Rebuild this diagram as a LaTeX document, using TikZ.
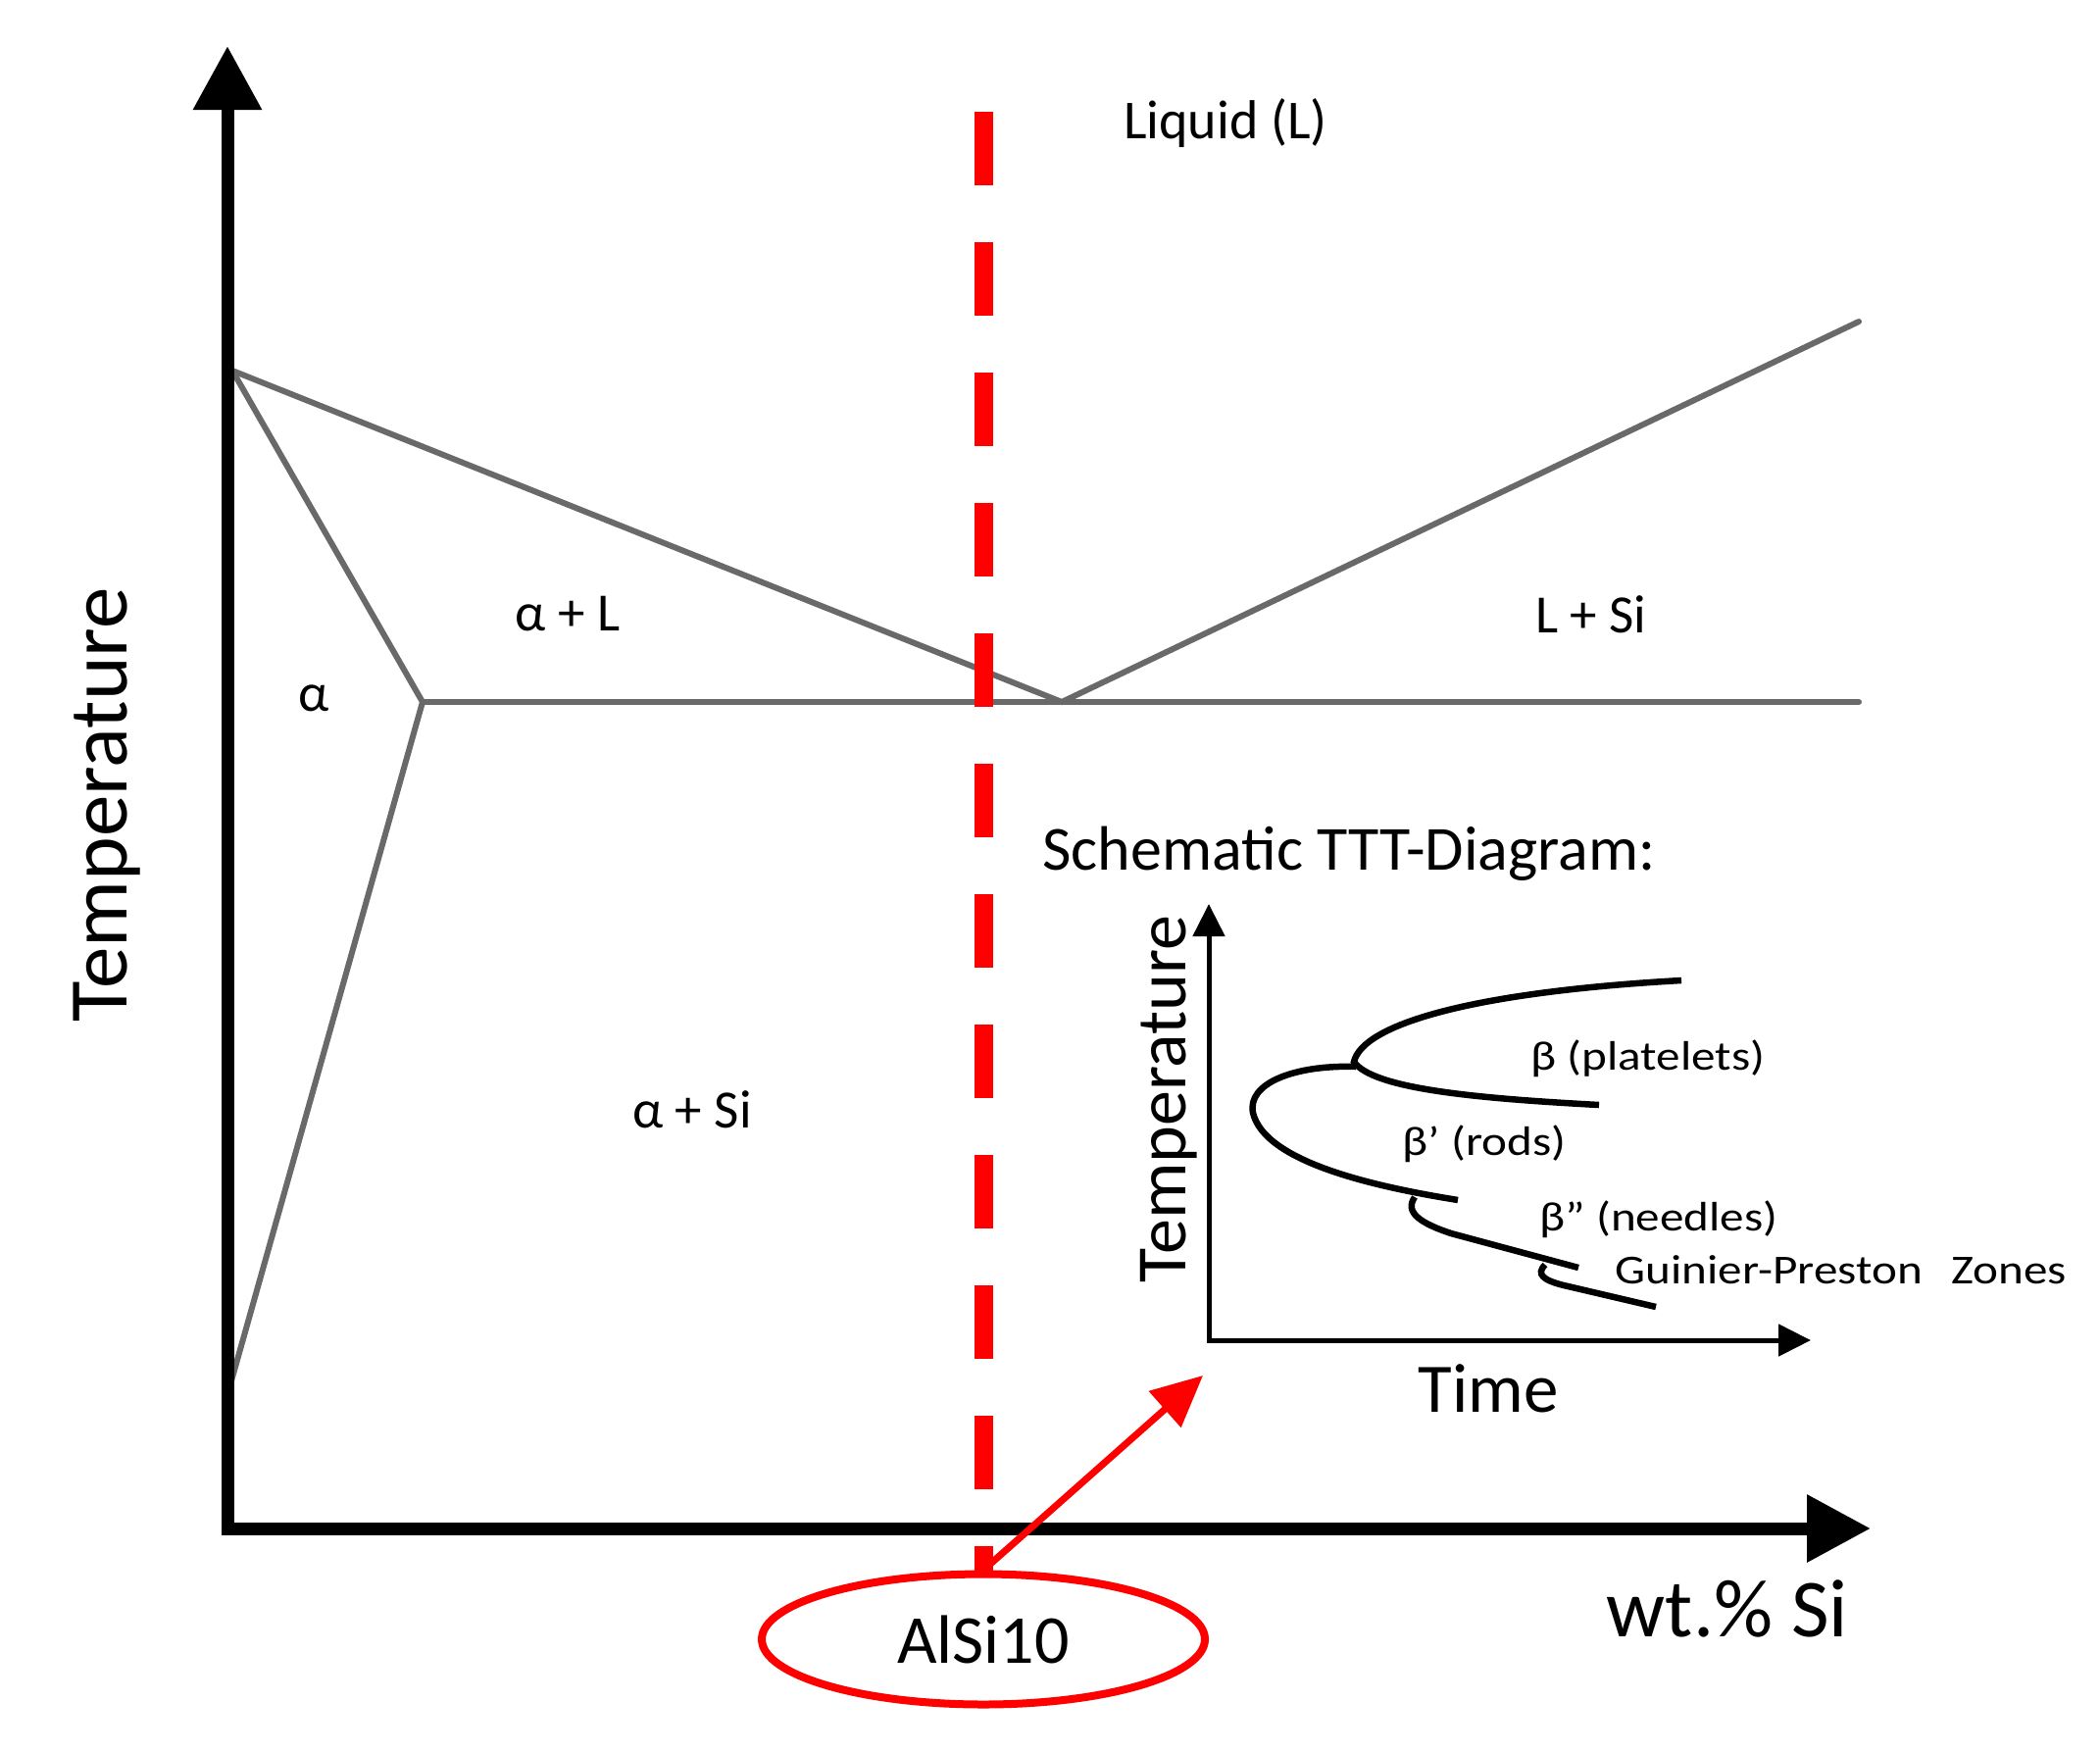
\documentclass[tikz,border=0pt]{standalone}
\usepackage{fontspec}
\setmainfont{Carlito}
\usetikzlibrary{arrows.meta,shapes.geometric}
\definecolor{phasegray}{RGB}{105,105,105}
\definecolor{alred}{RGB}{255,0,0}
\tikzset{
  fs/.style={font=\fontsize{#1}{#1}\selectfont, inner sep=0pt, text=black},
  phaselbl/.style={fs=55, anchor=base},
  tttlbl/.style={fs=42, anchor=base, xscale=1.17},
  mainaxis/.style={line width=13pt, line join=miter, black},
  tttaxis/.style={line width=5pt, line join=miter, black},
  phaseline/.style={line width=6pt, phasegray, line cap=round},
  tttcurve/.style={line width=6.5pt, black},
  reddash/.style={line width=19pt, alred, dash pattern=on 75pt off 58pt},
  redarrow/.style={line width=7pt, alred, -{Triangle[length=52pt,width=48pt]}},
}
\begin{document}
\begin{tikzpicture}[x=1pt,y=-1pt]
\useasboundingbox[fill=white] (0,0) rectangle (2142,1786);

% ---------- phase diagram lines ----------
\coordinate (A) at (237,378);
\coordinate (S) at (431,716);
\coordinate (E) at (1083,716);
\coordinate (R) at (1896,328);
\coordinate (H) at (1896,716);
\coordinate (B) at (235,1412);
\draw[phaseline] (A) -- (E) -- (R);
\draw[phaseline] (A) -- (S) -- (B);
\draw[phaseline] (S) -- (H);

% ---------- main axes ----------
\coordinate (ytip) at (232,47);
\coordinate (origin) at (232,1559);
\coordinate (xtip) at (1908,1559);
\draw[mainaxis, {Triangle[length=65pt,width=67pt]}-{Triangle[length=65pt,width=66pt]}]
  (ytip) -- (origin) -- (xtip);

% ---------- labels ----------
\node[fs=56, anchor=base] (liq) at (1250,141) {Liquid (L)};
\node[phaselbl] (aL) at (579,643) {α + L};
\node[phaselbl] (a) at (320,725) {α};
\node[phaselbl] (LSi) at (1623,645) {L + Si};
\node[phaselbl] (aSi) at (706,1150) {α + Si};
\node[fs=85, anchor=base, rotate=90] (temp) at (129,821) {Temperature};
\node[fs=84, anchor=base] (wt) at (1762,1669) {wt.\% Si};

% ---------- AlSi10 marker ----------
\node[ellipse, draw=alred, line width=8pt, minimum width=452pt, minimum height=133pt,
      inner sep=0pt, fs=70] (alsi) at (1003,1672) {AlSi10};
\coordinate (dashtop) at (1003,114);
\draw[reddash] (dashtop) -- (alsi.north);

% ---------- TTT inset ----------
\node[fs=64, anchor=base] (schem) at (1376,887) {Schematic TTT-Diagram:};
\coordinate (tytip) at (1233,922);
\coordinate (torigin) at (1233,1367);
\coordinate (txtip) at (1847,1367);
\draw[tttaxis, {Triangle[length=33pt,width=32pt]}-{Triangle[length=33pt,width=32pt]}]
  (tytip) -- (torigin) -- (txtip);
\node[fs=72, anchor=base, rotate=90] (ttemp) at (1209,1121) {Temperature};
\node[fs=71, anchor=base] (time) at (1518,1440) {Time};

% C-curves
\draw[tttcurve] (1715,1000) .. controls (1500,1012) and (1390,1045) .. (1381,1083)
                .. controls (1400,1110) and (1500,1120) .. (1631,1127);
\draw[tttcurve] (1383,1088) .. controls (1320,1086) and (1272,1105) .. (1278,1135)
                .. controls (1290,1185) and (1400,1210) .. (1487,1224);
\draw[tttcurve] (1443,1221) .. controls (1432,1237) and (1450,1248) .. (1480,1258)
                -- (1610,1293);
\draw[tttcurve] (1576,1290) .. controls (1566,1300) and (1575,1306) .. (1595,1311)
                -- (1689,1333);

\node[tttlbl] (bplat) at (1681,1091) {β (platelets)};
\node[tttlbl] (brods) at (1514,1178) {β’ (rods)};
\node[tttlbl] (bneed) at (1692,1255) {β” (needles)};
\node[tttlbl] (gp) at (1878,1309) {Guinier-Preston\hspace{0.6em}Zones};

% ---------- red arrow to inset ----------
\coordinate (arrowtip) at (1227,1403);
\draw[redarrow] (alsi.north) -- (arrowtip);
\end{tikzpicture}
\end{document}
